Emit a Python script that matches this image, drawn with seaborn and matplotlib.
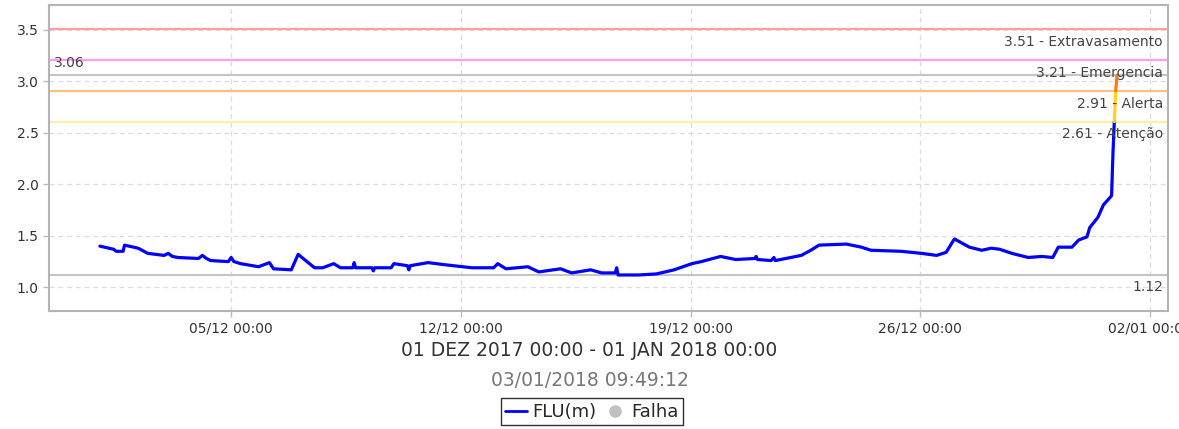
import numpy as np
import pandas as pd
import seaborn as sns
import matplotlib.pyplot as plt
import matplotlib.dates as mdates
from matplotlib.lines import Line2D


# river level readings (FLU, metres)
times = [
    "2017-12-01 00:00", "2017-12-01 10:00", "2017-12-01 12:00", "2017-12-01 17:00",
    "2017-12-01 18:00", "2017-12-02 04:00", "2017-12-02 11:00", "2017-12-02 23:00",
    "2017-12-03 02:00", "2017-12-03 05:00", "2017-12-03 09:00", "2017-12-04 00:00",
    "2017-12-04 03:00", "2017-12-04 06:00", "2017-12-04 09:00", "2017-12-04 22:00",
    "2017-12-05 00:00", "2017-12-05 02:00", "2017-12-05 07:00", "2017-12-05 20:00",
    "2017-12-06 04:00", "2017-12-06 07:00", "2017-12-06 20:00", "2017-12-07 01:00",
    "2017-12-07 13:00", "2017-12-07 19:00", "2017-12-08 03:00", "2017-12-08 08:00",
    "2017-12-08 17:00", "2017-12-08 18:00", "2017-12-08 19:00", "2017-12-08 22:00",
    "2017-12-09 07:00", "2017-12-09 08:00", "2017-12-09 09:00", "2017-12-09 21:00",
    "2017-12-09 23:00", "2017-12-10 09:00", "2017-12-10 10:00", "2017-12-10 11:00",
    "2017-12-11 00:00", "2017-12-11 12:00", "2017-12-12 08:00", "2017-12-13 00:00",
    "2017-12-13 03:00", "2017-12-13 09:00", "2017-12-14 01:00", "2017-12-14 09:00",
    "2017-12-15 01:00", "2017-12-15 09:00", "2017-12-15 23:00", "2017-12-16 07:00",
    "2017-12-16 17:00", "2017-12-16 18:00", "2017-12-16 19:00", "2017-12-17 10:00",
    "2017-12-17 23:00", "2017-12-18 12:00", "2017-12-19 01:00", "2017-12-19 08:00",
    "2017-12-19 22:00", "2017-12-20 09:00", "2017-12-20 23:00", "2017-12-21 00:00",
    "2017-12-21 01:00", "2017-12-21 11:00", "2017-12-21 13:00", "2017-12-21 14:00",
    "2017-12-22 09:00", "2017-12-22 16:00", "2017-12-22 22:00", "2017-12-23 18:00",
    "2017-12-24 05:00", "2017-12-24 12:00", "2017-12-25 10:00", "2017-12-26 01:00",
    "2017-12-26 12:00", "2017-12-26 19:00", "2017-12-27 01:00", "2017-12-27 12:00",
    "2017-12-27 21:00", "2017-12-28 04:00", "2017-12-28 10:00", "2017-12-28 19:00",
    "2017-12-29 07:00", "2017-12-29 17:00", "2017-12-30 01:00", "2017-12-30 05:00",
    "2017-12-30 15:00", "2017-12-30 20:00", "2017-12-31 02:00", "2017-12-31 04:00",
    "2017-12-31 10:00", "2017-12-31 14:00", "2017-12-31 20:00", "2017-12-31 21:00",
    "2017-12-31 22:00", "2017-12-31 23:00", "2018-01-01 00:00",
]
level = [
    1.40, 1.37, 1.35, 1.35,
    1.41, 1.38, 1.33, 1.31,
    1.33, 1.30, 1.29, 1.28,
    1.31, 1.28, 1.26, 1.25,
    1.29, 1.25, 1.23, 1.20,
    1.24, 1.18, 1.17, 1.32,
    1.19, 1.19, 1.23, 1.19,
    1.19, 1.24, 1.19, 1.19,
    1.19, 1.16, 1.19, 1.19,
    1.23, 1.21, 1.17, 1.21,
    1.24, 1.22, 1.19, 1.19,
    1.23, 1.18, 1.20, 1.15,
    1.18, 1.14, 1.17, 1.14,
    1.14, 1.19, 1.12, 1.12,
    1.13, 1.17, 1.23, 1.25,
    1.30, 1.27, 1.28, 1.30,
    1.27, 1.26, 1.29, 1.26,
    1.31, 1.36, 1.41, 1.42,
    1.39, 1.36, 1.35, 1.33,
    1.31, 1.34, 1.47, 1.39,
    1.36, 1.38, 1.37, 1.33,
    1.29, 1.30, 1.29, 1.39,
    1.39, 1.46, 1.49, 1.58,
    1.68, 1.80, 1.89, 2.30,
    2.61, 2.91, 3.06,
]

# alarm levels
limit_values = [3.51, 3.21, 2.91, 2.61]
limit_names = ["Extravasamento", "Emergencia", "Alerta", "Atenção"]
limit_colors = ["#ffa0a0", "#ff9cf5", "#ffbf80", "#fff0a8"]

xticks = ["2017-12-05", "2017-12-12", "2017-12-19", "2017-12-26", "2018-01-02"]
period_label = "01 DEZ 2017 00:00 - 01 JAN 2018 00:00"
stamp_label = "03/01/2018 09:49:12"

df = pd.DataFrame({"time": pd.to_datetime(times), "level": level})

sns.set_theme(style="white")
plt.rcParams["font.family"] = ["DejaVu Sans"]

fig = plt.figure(figsize=(11.79, 4.29), dpi=100)
ax = fig.add_axes([0.0416, 0.275, 0.949, 0.713])

ax.grid(True, color="#dddddd", linestyle=(0, (4, 3)), linewidth=0.9)

# min / max of the series
hi = df["level"].max()
lo = df["level"].min()
ax.axhline(hi, color="#c4c4c4", lw=1.5, zorder=2)
ax.axhline(lo, color="#c4c4c4", lw=1.5, zorder=2)

trans = ax.get_yaxis_transform()
for val, name, col in zip(limit_values, limit_names, limit_colors):
    ax.axhline(val, color=col, lw=1.6, zorder=2)
    ax.text(0.9955, val - 0.125, f"{val:.2f} - {name}", transform=trans,
            ha="right", va="center", fontsize=10, color="#444444", zorder=5)
ax.text(0.004, hi + 0.12, f"{hi:.2f}", transform=trans, ha="left", va="center",
        fontsize=10, color="#444444")
ax.text(0.9955, lo - 0.12, f"{lo:.2f}", transform=trans, ha="right", va="center",
        fontsize=10, color="#444444")

# colour the line by alarm band
blue = df[df["level"] <= 2.61]
yellow = df[(df["level"] >= 2.61) & (df["level"] <= 2.91)]
orange = df[df["level"] >= 2.91]
sns.lineplot(data=blue, x="time", y="level", color="#0000ff", lw=2.3, ax=ax, zorder=4)
sns.lineplot(data=yellow, x="time", y="level", color="#ffd21f", lw=2.3, ax=ax, zorder=4)
sns.lineplot(data=orange, x="time", y="level", color="#ff7a10", lw=2.3, ax=ax, zorder=4)

ax.set_xlim(pd.Timestamp("2017-11-29 10:48"), pd.Timestamp("2018-01-02 13:12"))
ax.set_ylim(0.77, 3.74)
ax.set_yticks([1.0, 1.5, 2.0, 2.5, 3.0, 3.5])
ax.set_xticks(pd.to_datetime(xticks))
ax.xaxis.set_major_formatter(mdates.DateFormatter("%d/%m %H:%M"))
ax.set_xlabel("")
ax.set_ylabel("")
ax.tick_params(axis="both", labelsize=10, labelcolor="#333333", colors="#bbbbbb",
               length=4, width=1, direction="out", left=True, bottom=True)
for lab in ax.get_xticklabels() + ax.get_yticklabels():
    lab.set_color("#333333")
for sp in ax.spines.values():
    sp.set_color("#b4b4b4")
    sp.set_linewidth(1.5)

fig.text(0.5, 0.182, period_label, ha="center", va="center", fontsize=13.5,
         color="#333333")
fig.text(0.5, 0.112, stamp_label, ha="center", va="center", fontsize=13.5,
         color="#777777")

handles = [
    Line2D([0], [0], color="#0000ff", lw=2),
    Line2D([0], [0], marker="o", color="none", markerfacecolor="#c0c0c0",
           markeredgecolor="#c0c0c0", markersize=8),
]
leg = fig.legend(handles, ["FLU(m)", "Falha"], loc="center", bbox_to_anchor=(0.502, 0.040),
                 ncol=2, fontsize=13, frameon=True, fancybox=False, handlelength=1.2,
                 handletextpad=0.3, columnspacing=0.4, borderpad=0.25, borderaxespad=0)
leg.get_frame().set_edgecolor("black")
leg.get_frame().set_linewidth(1)

fig.savefig("out.png", dpi=100)
